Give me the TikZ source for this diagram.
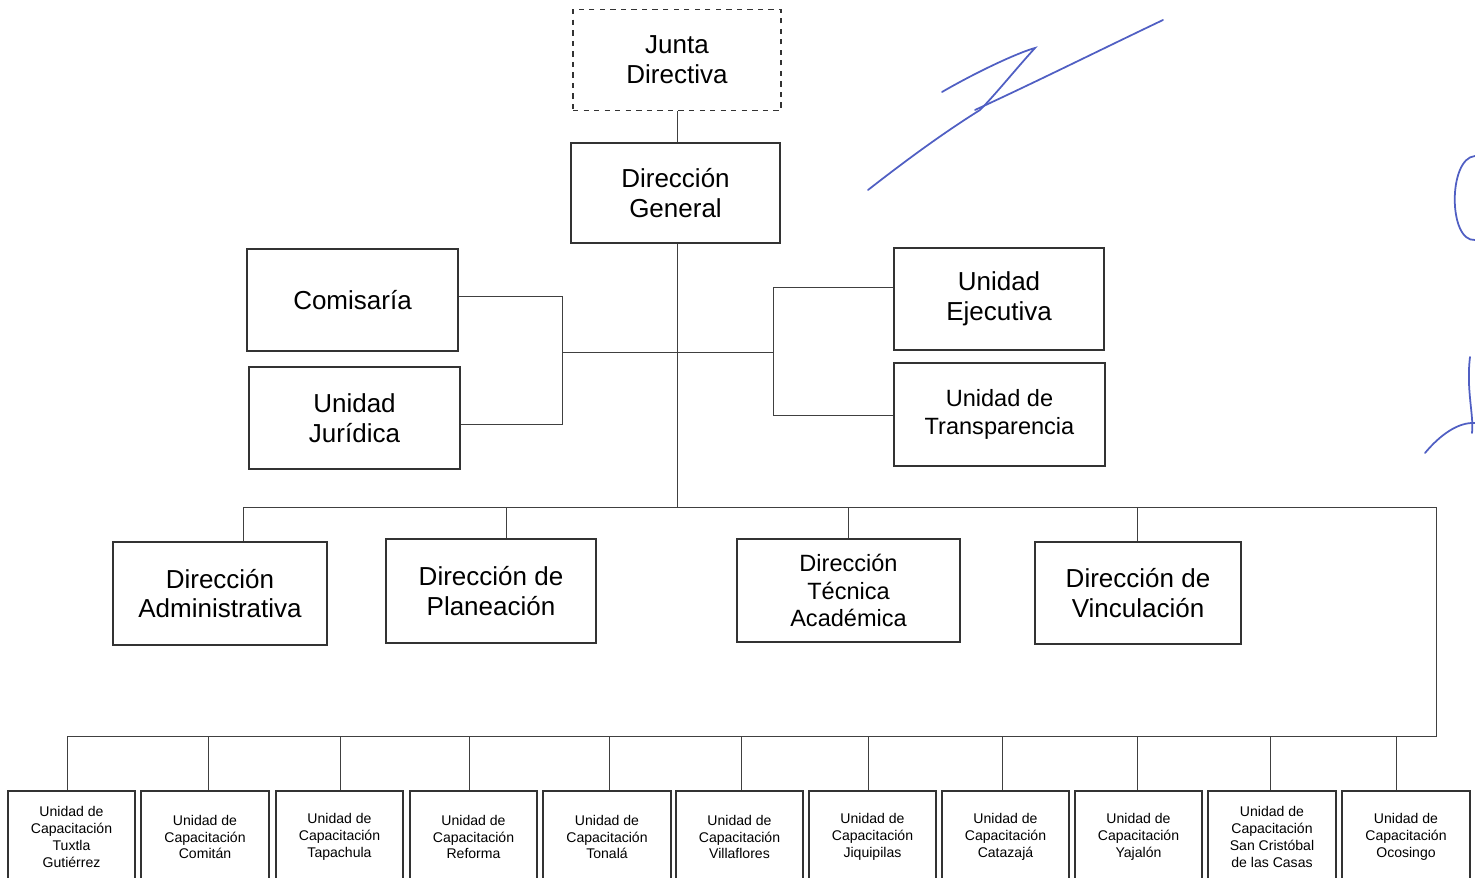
\documentclass[tikz,border=0pt]{standalone}
\usepackage{fontspec}
\setmainfont{Liberation Sans}
\usetikzlibrary{positioning}
\usetikzlibrary{calc}

\begin{document}
\begin{tikzpicture}[x=0.02cm,y=-0.02cm]
  \tikzset{
    box/.style={draw=black!80,line width=0.4mm,align=center,inner sep=1pt,
      font=\fontsize{14.8}{17}\selectfont},
    dbox/.style={box,dashed,line width=0.3mm},
    ubox/.style={draw=black!80,line width=0.4mm,align=center,inner sep=1pt,
      minimum width=2.56cm,minimum height=1.84cm,
      font=\fontsize{8}{9.6}\selectfont},
    link/.style={draw=black!75,line width=0.2mm},
    firma/.style={draw={rgb,255:red,80;green,95;blue,195},line width=0.35mm,line cap=round}
  }
  \useasboundingbox (0,0) rectangle (1475,878);
  \clip (0,0) rectangle (1475,878);

    %CABEZA
    \node[dbox,minimum width=4.16cm,minimum height=2.02cm] (jd) at (677,60) {Junta\\Directiva};
    \node[box,minimum width=4.18cm,minimum height=2.02cm] (dg) at (675.5,193) {Dirección\\General};

    %APOYO
    \node[box,minimum width=4.22cm,minimum height=2.04cm] (com) at (352.5,300) {Comisaría};
    \node[box,minimum width=4.22cm,minimum height=2.04cm] (jur) at (354.5,418) {Unidad\\Jurídica};
    \node[box,minimum width=4.2cm,minimum height=2.04cm] (ejec) at (999,299) {Unidad\\Ejecutiva};
    \node[box,minimum width=4.22cm,minimum height=2.06cm,font=\fontsize{13.4}{15.6}\selectfont] (trans) at (999.5,414.5) {Unidad de\\Transparencia};

    %DIRECCIONES
    \node[box,minimum width=4.28cm,minimum height=2.06cm] (adm) at (220,593.5) {Dirección\\Administrativa};
    \node[box,minimum width=4.2cm,minimum height=2.08cm] (plan) at (491,591) {Dirección de\\Planeación};
    \node[box,minimum width=4.46cm,minimum height=2.06cm,font=\fontsize{13.4}{15.4}\selectfont] (tec) at (848.5,590.5) {Dirección\\Técnica\\Académica};
    \node[box,minimum width=4.12cm,minimum height=2.04cm] (vinc) at (1138,593) {Dirección de\\Vinculación};

    %UNIDADES DE CAPACITACION
    \node[ubox] (u1) at (71.5,837) {Unidad de\\Capacitación\\Tuxtla\\Gutiérrez};
    \node[ubox] (u2) at (205,837) {Unidad de\\Capacitación\\Comitán};
    \node[ubox] (u3) at (339.5,837) {Unidad de\\Capacitación\\Tapachula};
    \node[ubox] (u4) at (473.5,837) {Unidad de\\Capacitación\\Reforma};
    \node[ubox] (u5) at (607,837) {Unidad de\\Capacitación\\Tonalá};
    \node[ubox] (u6) at (739.5,837) {Unidad de\\Capacitación\\Villaflores};
    \node[ubox] (u7) at (872.5,837) {Unidad de\\Capacitación\\Jiquipilas};
    \node[ubox] (u8) at (1005.5,837) {Unidad de\\Capacitación\\Catazajá};
    \node[ubox] (u9) at (1138.5,837) {Unidad de\\Capacitación\\Yajalón};
    \node[ubox] (u10) at (1272,837) {Unidad de\\Capacitación\\San Cristóbal\\de las Casas};
    \node[ubox] (u11) at (1406,837) {Unidad de\\Capacitación\\Ocosingo};

    \coordinate (tr) at (677,508);
    \coordinate (jl) at (562,353);
    \coordinate (jr) at (773,353);
    \coordinate (barL) at (243,508);
    \coordinate (barR) at (1436,508);
    \coordinate (botR) at (1436,736);
    \coordinate (botL) at (67,736);

    %LINEAS
    \draw[link] (jd.south) -- (jd.south |- dg.north);
    \draw[link] (tr |- dg.south) -- (tr);
    \draw[link] (com.east |- 0,297) -| (jl);
    \draw[link] (jur.east |- 0,425) -| (jl);
    \draw[link] (jl) -- (jr);
    \draw[link] (ejec.west |- 0,288) -| (jr);
    \draw[link] (trans.west |- 0,416) -| (jr);
    \draw[link] (barL) -- (barR) -- (botR) -- (botL);
    \foreach \n/\x in {adm/243,plan/506,tec/848,vinc/1137} {
      \draw[link] (\x,508) -- (\n.north -| \x,0) ;
    }
    \foreach \n/\x in {u1/67,u2/208,u3/340,u4/469,u5/609,u6/741,u7/868,u8/1002,u9/1137,u10/1270,u11/1396} {
      \draw[link] (\x,736) -- (\n.north -| \x,0) ;
    }

    %FIRMAS
    \draw[firma] (942,92) .. controls (980,70) and (1020,52) .. (1035,48)
      .. controls (1015,70) and (995,95) .. (980,110) .. controls (940,135) and (900,165) .. (868,190);
    \draw[firma] (975,110) .. controls (1040,80) and (1100,50) .. (1163,20);
    \draw[firma] (1475,156) .. controls (1448,158) and (1448,242) .. (1475,240);
    \draw[firma] (1470,357) .. controls (1466,390) and (1474,415) .. (1472,433);
    \draw[firma] (1425,453) .. controls (1440,435) and (1458,422) .. (1475,423);
\end{tikzpicture}
\end{document}
